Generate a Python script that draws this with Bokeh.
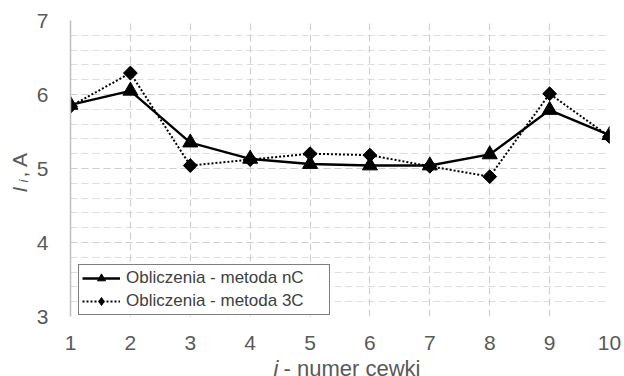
import math
from bokeh.plotting import figure
from bokeh.layouts import row, column
from bokeh.models import (ColumnDataSource, FixedTicker, Range1d, Label, Legend, LegendItem, Grid)
from bokeh.embed import file_html
from bokeh.resources import INLINE

coils = [1, 2, 3, 4, 5, 6, 7, 8, 9, 10]
current_nC = [5.86, 6.05, 5.35, 5.13, 5.06, 5.04, 5.04, 5.19, 5.79, 5.45]
current_3C = [5.84, 6.29, 5.04, 5.12, 5.20, 5.18, 5.03, 4.89, 6.01, 5.43]
y_ticks = [3, 4, 5, 6, 7]
x_ticks = coils

FONT = "Liberation Sans"
GRAY = "#595959"

src = ColumnDataSource(data=dict(x=coils, nC=current_nC, c3=current_3C))
xr = Range1d(1, 10)

# ---------------- main plot ----------------
p = figure(width=592, height=330, output_backend="svg", toolbar_location=None,
           x_range=xr, y_range=Range1d(3, 7), x_axis_location=None,
           min_border_left=38, min_border_right=15, min_border_top=20, min_border_bottom=14)
p.outline_line_color = None
p.background_fill_color = "white"

p.yaxis.ticker = FixedTicker(ticks=y_ticks, minor_ticks=[3 + 0.2 * k for k in range(21)])
p.yaxis.major_label_text_font = FONT
p.yaxis.major_label_text_font_size = "21px"
p.yaxis.major_label_text_color = GRAY
p.yaxis.major_tick_line_color = None
p.yaxis.minor_tick_line_color = None
p.yaxis.major_label_standoff = 16
p.yaxis.axis_line_color = "#bfbfbf"
p.yaxis.axis_line_width = 1.5

for g in p.xgrid:
    g.grid_line_color = None
p.add_layout(Grid(dimension=0, ticker=FixedTicker(ticks=x_ticks), grid_line_color="#d0d0d0",
                  grid_line_dash="7 4", grid_line_width=1.2))
p.ygrid.grid_line_color = "#d0d0d0"
p.ygrid.grid_line_dash = "7 4"
p.ygrid.grid_line_width = 1.2
p.ygrid.minor_grid_line_color = "#dddddd"
p.ygrid.minor_grid_line_dash = "7 4"

l1 = p.line("x", "nC", source=src, line_color="black", line_width=2.4)
m1 = p.scatter("x", "nC", source=src, marker="triangle", size=15, color="black")
l2 = p.line("x", "c3", source=src, line_color="black", line_width=2, line_dash="2 2")
m2_key = p.scatter("x", "c3", source=src, marker="diamond", size=12, color="black")
m2 = p.scatter("x", "c3", source=src, marker="square", size=9.8, angle=math.pi / 4, color="black")

legend = Legend(items=[
    LegendItem(label="Obliczenia - metoda nC", renderers=[l1, m1]),
    LegendItem(label="Obliczenia - metoda 3C", renderers=[l2, m2_key]),
], location=(8, 1))
legend.label_text_font = FONT
legend.label_text_font_size = "17px"
legend.label_text_color = "#404040"
legend.border_line_color = "black"
legend.border_line_width = 1.2
legend.background_fill_alpha = 1
legend.padding = 3
legend.spacing = 3
legend.margin = 0
legend.glyph_width = 38
legend.glyph_height = 20
legend.label_height = 20
legend.label_standoff = 6
legend.label_width = 200
p.add_layout(legend, "center")

# ---------------- x tick labels + x title ----------------
xf = figure(width=592, height=46, output_backend="svg", toolbar_location=None,
            x_range=xr, y_range=Range1d(0, 1), x_axis_location="above", y_axis_location=None,
            min_border_left=38, min_border_right=15, min_border_top=25, min_border_bottom=0)
xf.outline_line_color = None
xf.xgrid.grid_line_color = None
xf.ygrid.grid_line_color = None
xf.xaxis.ticker = FixedTicker(ticks=x_ticks)
xf.xaxis.major_label_text_font = FONT
xf.xaxis.major_label_text_font_size = "21px"
xf.xaxis.major_label_text_color = GRAY
xf.xaxis.major_tick_line_color = None
xf.xaxis.minor_tick_line_color = None
xf.xaxis.axis_line_color = None
xf.xaxis.major_label_standoff = 0

def add_label(fig, **kw):
    fig.add_layout(Label(x_units="screen", y_units="screen", text_font=FONT, text_color=GRAY,
                         text_align="left", text_baseline="alphabetic", **kw))

add_label(xf, x=203, y=8, text="i", text_font_style="italic", text_font_size="22px")
add_label(xf, x=213, y=8, text="- numer cewki", text_font_size="22px")

# ---------------- y title ----------------
yf = figure(width=32, height=330, output_backend="svg", toolbar_location=None,
            x_range=Range1d(0, 1), y_range=Range1d(0, 1), x_axis_location=None,
            y_axis_location=None, min_border=0)
yf.outline_line_color = None
yf.xgrid.grid_line_color = None
yf.ygrid.grid_line_color = None
add_label(yf, x=19, y=138, text="I", angle=math.pi / 2, text_font_style="italic", text_font_size="21px")
add_label(yf, x=23, y=148, text="i", angle=math.pi / 2, text_font_style="italic", text_font_size="13px")
add_label(yf, x=19, y=153, text=", A", angle=math.pi / 2, text_font_size="21px")

layout = row(yf, column(p, xf))
open("out.html", "w").write(file_html(layout, INLINE))
